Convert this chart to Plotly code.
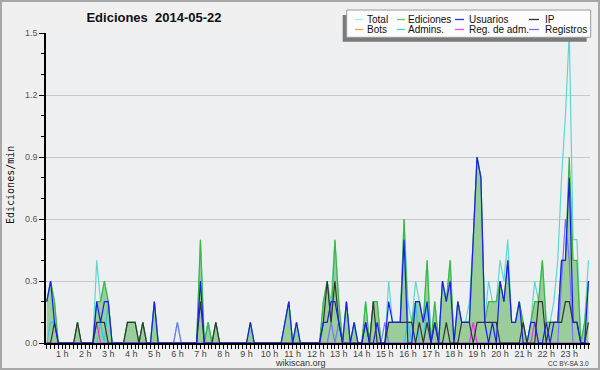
import plotly.graph_objects as go

# ---------------- data (edits per minute, 10-minute bins) ----------------
minutes = list(range(20, 1440, 10))  # bin start, minutes after 00:00 (142 bins)

total = [
    0.2, 0.3, 0.2, 0, 0, 0, 0, 0, 0.1, 0, 0, 0,
    0, 0.4, 0.2, 0.3, 0.2, 0, 0, 0, 0, 0.1, 0.1, 0.1,
    0, 0.1, 0, 0, 0.2, 0, 0, 0, 0, 0, 0.1, 0,
    0, 0, 0, 0, 0.5, 0, 0.1, 0, 0.1, 0, 0, 0,
    0, 0, 0, 0, 0, 0.1, 0, 0, 0, 0, 0, 0,
    0, 0, 0.1, 0.2, 0, 0.1, 0, 0, 0, 0, 0, 0,
    0.2, 0.3, 0.2, 0.5, 0.2, 0, 0.2, 0, 0.1, 0, 0, 0.2,
    0, 0.2, 0.2, 0, 0, 0.3, 0.1, 0.1, 0.1, 0.6, 0.2, 0.1,
    0.3, 0.2, 0.1, 0.4, 0, 0.2, 0, 0.3, 0.2, 0.4, 0, 0.2,
    0.1, 0.1, 0.2, 0.5, 0.9, 0.8, 0.1, 0.3, 0.2, 0.2, 0.4, 0.3,
    0.5, 0.1, 0.1, 0.2, 0.1, 0, 0.1, 0.3, 0.2, 0.4, 0.1, 0.1,
    0.2, 0.4, 0.8, 1.1, 1.5, 0.5, 0.5, 0, 0.1, 0.4,
]
ediciones = [
    0.2, 0.3, 0.2, 0, 0, 0, 0, 0, 0.1, 0, 0, 0,
    0, 0.2, 0.2, 0.3, 0.2, 0, 0, 0, 0, 0.1, 0.1, 0.1,
    0, 0.1, 0, 0, 0.2, 0, 0, 0, 0, 0, 0, 0,
    0, 0, 0, 0, 0.5, 0, 0.1, 0, 0.1, 0, 0, 0,
    0, 0, 0, 0, 0, 0.1, 0, 0, 0, 0, 0, 0,
    0, 0, 0.1, 0.2, 0, 0.1, 0, 0, 0, 0, 0, 0,
    0.2, 0.3, 0.1, 0.5, 0.2, 0, 0.2, 0, 0.1, 0, 0, 0.2,
    0, 0.2, 0.2, 0, 0, 0.1, 0.1, 0.1, 0.1, 0.6, 0.1, 0.1,
    0.2, 0.2, 0.1, 0.4, 0, 0.2, 0, 0.3, 0.2, 0.4, 0, 0.2,
    0.1, 0.1, 0.1, 0.5, 0.9, 0.8, 0.1, 0.2, 0.2, 0.2, 0.3, 0.2,
    0.4, 0.1, 0.1, 0.2, 0.1, 0, 0.1, 0.2, 0.2, 0.4, 0.1, 0.1,
    0.1, 0.1, 0.4, 0.4, 0.9, 0.4, 0.4, 0, 0.1, 0.3,
]
usuarios = [
    0.2, 0.3, 0.1, 0, 0, 0, 0, 0, 0, 0, 0, 0,
    0, 0.2, 0.1, 0.2, 0.2, 0, 0, 0, 0, 0, 0, 0,
    0, 0, 0, 0, 0.2, 0, 0, 0, 0, 0, 0, 0,
    0, 0, 0, 0, 0.3, 0, 0, 0, 0, 0, 0, 0,
    0, 0, 0, 0, 0, 0.1, 0, 0, 0, 0, 0, 0,
    0, 0, 0.1, 0.2, 0, 0.1, 0, 0, 0, 0, 0, 0,
    0.1, 0.1, 0.2, 0.2, 0.1, 0, 0.2, 0, 0.1, 0, 0, 0.1,
    0, 0, 0.1, 0, 0, 0.2, 0.1, 0.1, 0.1, 0.5, 0, 0,
    0.2, 0.2, 0.1, 0.2, 0, 0.1, 0, 0.3, 0.2, 0.3, 0, 0.2,
    0.1, 0.1, 0.1, 0.5, 0.9, 0.8, 0.1, 0, 0.1, 0, 0.3, 0.2,
    0.4, 0.1, 0.1, 0.2, 0, 0, 0.1, 0.1, 0, 0, 0.1, 0,
    0.1, 0.1, 0.4, 0.4, 0.8, 0.1, 0.1, 0, 0, 0.3,
]
ip = [
    0, 0, 0.1, 0, 0, 0, 0, 0, 0.1, 0, 0, 0,
    0, 0.1, 0.1, 0.1, 0, 0, 0, 0, 0, 0.1, 0.1, 0.1,
    0, 0.1, 0, 0, 0, 0, 0, 0, 0, 0, 0, 0,
    0, 0, 0, 0, 0.2, 0, 0, 0, 0.1, 0, 0, 0,
    0, 0, 0, 0, 0, 0, 0, 0, 0, 0, 0, 0,
    0, 0, 0, 0, 0, 0, 0, 0, 0, 0, 0, 0,
    0.1, 0.3, 0.1, 0.3, 0.1, 0, 0, 0, 0, 0, 0, 0.1,
    0, 0.2, 0, 0, 0, 0.1, 0.1, 0.1, 0.1, 0.1, 0.1, 0.1,
    0, 0.1, 0, 0.1, 0, 0.1, 0, 0, 0.1, 0, 0, 0,
    0.1, 0.1, 0.1, 0, 0.1, 0.1, 0.1, 0.1, 0.1, 0.1, 0, 0,
    0, 0, 0, 0, 0.1, 0, 0, 0, 0.2, 0.2, 0, 0.1,
    0.1, 0.1, 0.1, 0.2, 0.2, 0.1, 0.1, 0, 0, 0.1,
]
bots = [0] * 142
admins = [
    0, 0.1, 0.1, 0, 0, 0, 0, 0, 0, 0, 0, 0,
    0, 0, 0.1, 0, 0.2, 0, 0, 0, 0, 0, 0, 0,
    0, 0, 0, 0, 0, 0, 0, 0, 0, 0, 0, 0,
    0, 0, 0, 0, 0, 0, 0.1, 0, 0, 0, 0, 0,
    0, 0, 0, 0, 0, 0, 0, 0, 0, 0, 0, 0,
    0, 0, 0, 0, 0, 0, 0, 0, 0, 0, 0, 0,
    0, 0, 0, 0, 0, 0, 0, 0, 0, 0, 0, 0,
    0, 0, 0, 0, 0, 0, 0, 0, 0, 0, 0.1, 0,
    0.2, 0, 0, 0.2, 0, 0, 0, 0, 0, 0, 0, 0,
    0, 0, 0, 0, 0, 0, 0, 0, 0, 0, 0, 0,
    0, 0, 0, 0, 0, 0, 0, 0, 0, 0, 0, 0,
    0, 0, 0, 0, 0, 0, 0, 0, 0, 0,
]
reg_adm = [
    0, 0, 0, 0, 0, 0, 0, 0, 0, 0, 0, 0,
    0, 0.1, 0, 0, 0, 0, 0, 0, 0, 0, 0, 0,
    0, 0, 0, 0, 0, 0, 0, 0, 0, 0, 0, 0,
    0, 0, 0, 0, 0, 0, 0, 0, 0, 0, 0, 0,
    0, 0, 0, 0, 0, 0, 0, 0, 0, 0, 0, 0,
    0, 0, 0, 0, 0, 0, 0, 0, 0, 0, 0, 0,
    0, 0, 0, 0, 0, 0, 0, 0, 0, 0, 0, 0,
    0, 0, 0, 0, 0, 0, 0, 0, 0, 0, 0, 0,
    0, 0, 0, 0, 0, 0, 0, 0, 0, 0, 0, 0,
    0, 0, 0, 0.1, 0, 0, 0, 0, 0, 0, 0, 0,
    0, 0, 0, 0, 0, 0, 0, 0.1, 0, 0, 0, 0,
    0, 0, 0, 0, 0, 0, 0, 0, 0, 0,
]
registros = [
    0, 0, 0, 0, 0, 0, 0, 0, 0, 0, 0, 0,
    0, 0, 0, 0, 0, 0, 0, 0, 0, 0, 0, 0,
    0, 0, 0, 0, 0, 0, 0, 0, 0, 0, 0.1, 0,
    0, 0, 0, 0, 0, 0, 0, 0, 0, 0, 0, 0,
    0, 0, 0, 0, 0, 0, 0, 0, 0, 0, 0, 0,
    0, 0, 0, 0, 0, 0, 0, 0, 0, 0, 0, 0,
    0, 0, 0.1, 0, 0.1, 0, 0, 0, 0, 0, 0, 0,
    0, 0, 0, 0, 0.1, 0, 0, 0, 0, 0, 0, 0,
    0, 0, 0, 0, 0, 0, 0, 0, 0, 0, 0, 0,
    0, 0, 0, 0, 0, 0, 0, 0, 0, 0, 0, 0,
    0, 0, 0, 0, 0, 0, 0, 0, 0, 0, 0, 0,
    0, 0, 0.3, 0.6, 0.4, 0, 0, 0, 0, 0,
]

hour_ticks = list(range(1, 24))
hour_labels = [f"{h} h" for h in hour_ticks]
y_ticks = [0.0, 0.3, 0.6, 0.9, 1.2, 1.5]
y_labels = ["0.0", "0.3", "0.6", "0.9", "1.2", "1.5"]

series_names = ["Total", "Ediciones", "Usuarios", "IP",
                "Bots", "Admins.", "Reg. de adm.", "Registros"]
colors = {
    "Total": "#5cd8d0", "Ediciones": "#3cb83c", "Usuarios": "#1c1cf0",
    "IP": "#333333", "Bots": "#ffa030", "Admins.": "#30c8ec",
    "Reg. de adm.": "#ee30ee", "Registros": "#7474ff",
}
legend_colors = {
    "Total": "#a8ece8", "Ediciones": "#66cc66", "Usuarios": "#3030ee",
    "IP": "#333333", "Bots": "#ffa030", "Admins.": "#40d0ec",
    "Reg. de adm.": "#ee44ee", "Registros": "#7070ff",
}

x_hours = [m / 60 for m in minutes]

# ---------------- figure ----------------
W, H = 600, 370
L, R, T, B = 46, 10, 33, 27
PW, PH = W - L - R, H - T - B


def px(xp):
    return (xp - L) / PW


def py(yp):
    return (H - B - yp) / PH


fig = go.Figure()

# Ediciones area fill (drawn first, below every line)
fig.add_trace(go.Scatter(x=x_hours, y=ediciones, mode="lines", fill="tozeroy",
                         fillcolor="#9acd9a", line=dict(width=0), hoverinfo="skip",
                         showlegend=False))

data_map = {
    "Bots": bots, "Total": total, "Registros": registros, "Admins.": admins,
    "Reg. de adm.": reg_adm, "Ediciones": ediciones, "IP": ip, "Usuarios": usuarios,
}
for name in ["Bots", "Total", "Registros", "Admins.", "Reg. de adm.",
             "Ediciones", "IP", "Usuarios"]:
    fig.add_trace(go.Scatter(x=x_hours, y=data_map[name], mode="lines", name=name,
                             line=dict(color=colors[name], width=1.2),
                             showlegend=False))

shapes = []
annotations = []

# outer frame
shapes.append(dict(type="rect", xref="paper", yref="paper",
                   x0=px(1), x1=px(W - 1), y0=py(H - 1), y1=py(1),
                   line=dict(color="#a8a8a8", width=2), layer="below"))

# legend box with shadow
shapes.append(dict(type="rect", xref="paper", yref="paper",
                   x0=px(342.7), x1=px(586.7), y0=py(41.7), y1=py(15),
                   fillcolor="#7a7a7a", line=dict(width=0)))
shapes.append(dict(type="rect", xref="paper", yref="paper",
                   x0=px(346.7), x1=px(590.7), y0=py(37.3), y1=py(10),
                   fillcolor="#fcfcfc", line=dict(color="#9a9a9a", width=1)))

col_line = [(355, 363), (397, 405), (455, 464), (529, 539)]
col_text = [366.5, 408, 469, 545]
row_y = [19.5, 29.5]
for k, name in enumerate(series_names):
    r, c = divmod(k, 4)
    shapes.append(dict(type="line", xref="paper", yref="paper",
                       x0=px(col_line[c][0]), x1=px(col_line[c][1]),
                       y0=py(row_y[r]), y1=py(row_y[r]),
                       line=dict(color=legend_colors[name], width=1.3)))
    annotations.append(dict(text=name, xref="paper", yref="paper",
                            x=px(col_text[c] - 1), y=py(row_y[r] + 0.5),
                            xanchor="left", yanchor="middle", showarrow=False,
                            font=dict(family="Liberation Sans", size=10, color="#111"),
                            borderpad=0))

annotations.append(dict(text="wikiscan.org", xref="paper", yref="paper",
                        x=px(300.5), y=py(362.5), xanchor="center", yanchor="middle",
                        showarrow=False, borderpad=0,
                        font=dict(family="Liberation Sans", size=9, color="#333")))
annotations.append(dict(text="CC BY-SA 3.0", xref="paper", yref="paper",
                        x=px(590), y=py(363), xanchor="right", yanchor="middle",
                        showarrow=False, borderpad=0,
                        font=dict(family="Liberation Sans", size=6.5, color="#333")))
annotations.append(dict(text="Ediciones/min", xref="paper", yref="paper",
                        x=px(10), y=py(185), xanchor="center", yanchor="middle",
                        textangle=-90, showarrow=False,
                        font=dict(family="DejaVu Sans Mono", size=10, color="#111")))

fig.update_layout(
    width=W, height=H,
    margin=dict(l=L, r=R, t=T, b=B, pad=0),
    paper_bgcolor="#f0f0f0", plot_bgcolor="#edeff1",
    showlegend=False,
    title=dict(text="<b>Ediciones\u00a0 2014-05-22</b>", x=154 / W, xanchor="center",
               y=1 - 17 / H, yanchor="middle",
               font=dict(family="Liberation Sans", size=13, color="#111")),
    shapes=shapes, annotations=annotations,
    xaxis=dict(range=[0.3, 23.9], showgrid=False, zeroline=False,
               showline=True, linecolor="black", linewidth=1.5,
               ticks="outside", ticklen=4, tickwidth=1, tickcolor="black",
               ticklabelstandoff=-3,
               tickmode="array", tickvals=hour_ticks, ticktext=hour_labels,
               tickfont=dict(family="Liberation Sans", size=9, color="#444"),
               minor=dict(tickmode="array", tickvals=[k / 6 for k in range(2, 144)],
                          ticks="outside", ticklen=4, tickwidth=1,
                          tickcolor="black", showgrid=False)),
    yaxis=dict(range=[0, 1.5], showgrid=True, gridcolor="#c8c8c8", gridwidth=1,
               zeroline=False, showline=True, linecolor="black", linewidth=1.5,
               ticks="outside", ticklen=5, tickwidth=1, tickcolor="black",
               tickmode="array", tickvals=y_ticks, ticktext=y_labels,
               tickfont=dict(family="Liberation Sans", size=9, color="#555"),
               minor=dict(tickmode="array", tickvals=[k / 10 for k in range(16)],
                          ticks="outside", ticklen=3, tickwidth=1,
                          tickcolor="black", showgrid=False)),
)

fig.write_html("out.html",
               config={"displayModeBar": False},
               post_script="document.body.style.margin='0';"
                           "document.body.style.padding='0';"
                           "document.body.style.overflow='hidden';")
